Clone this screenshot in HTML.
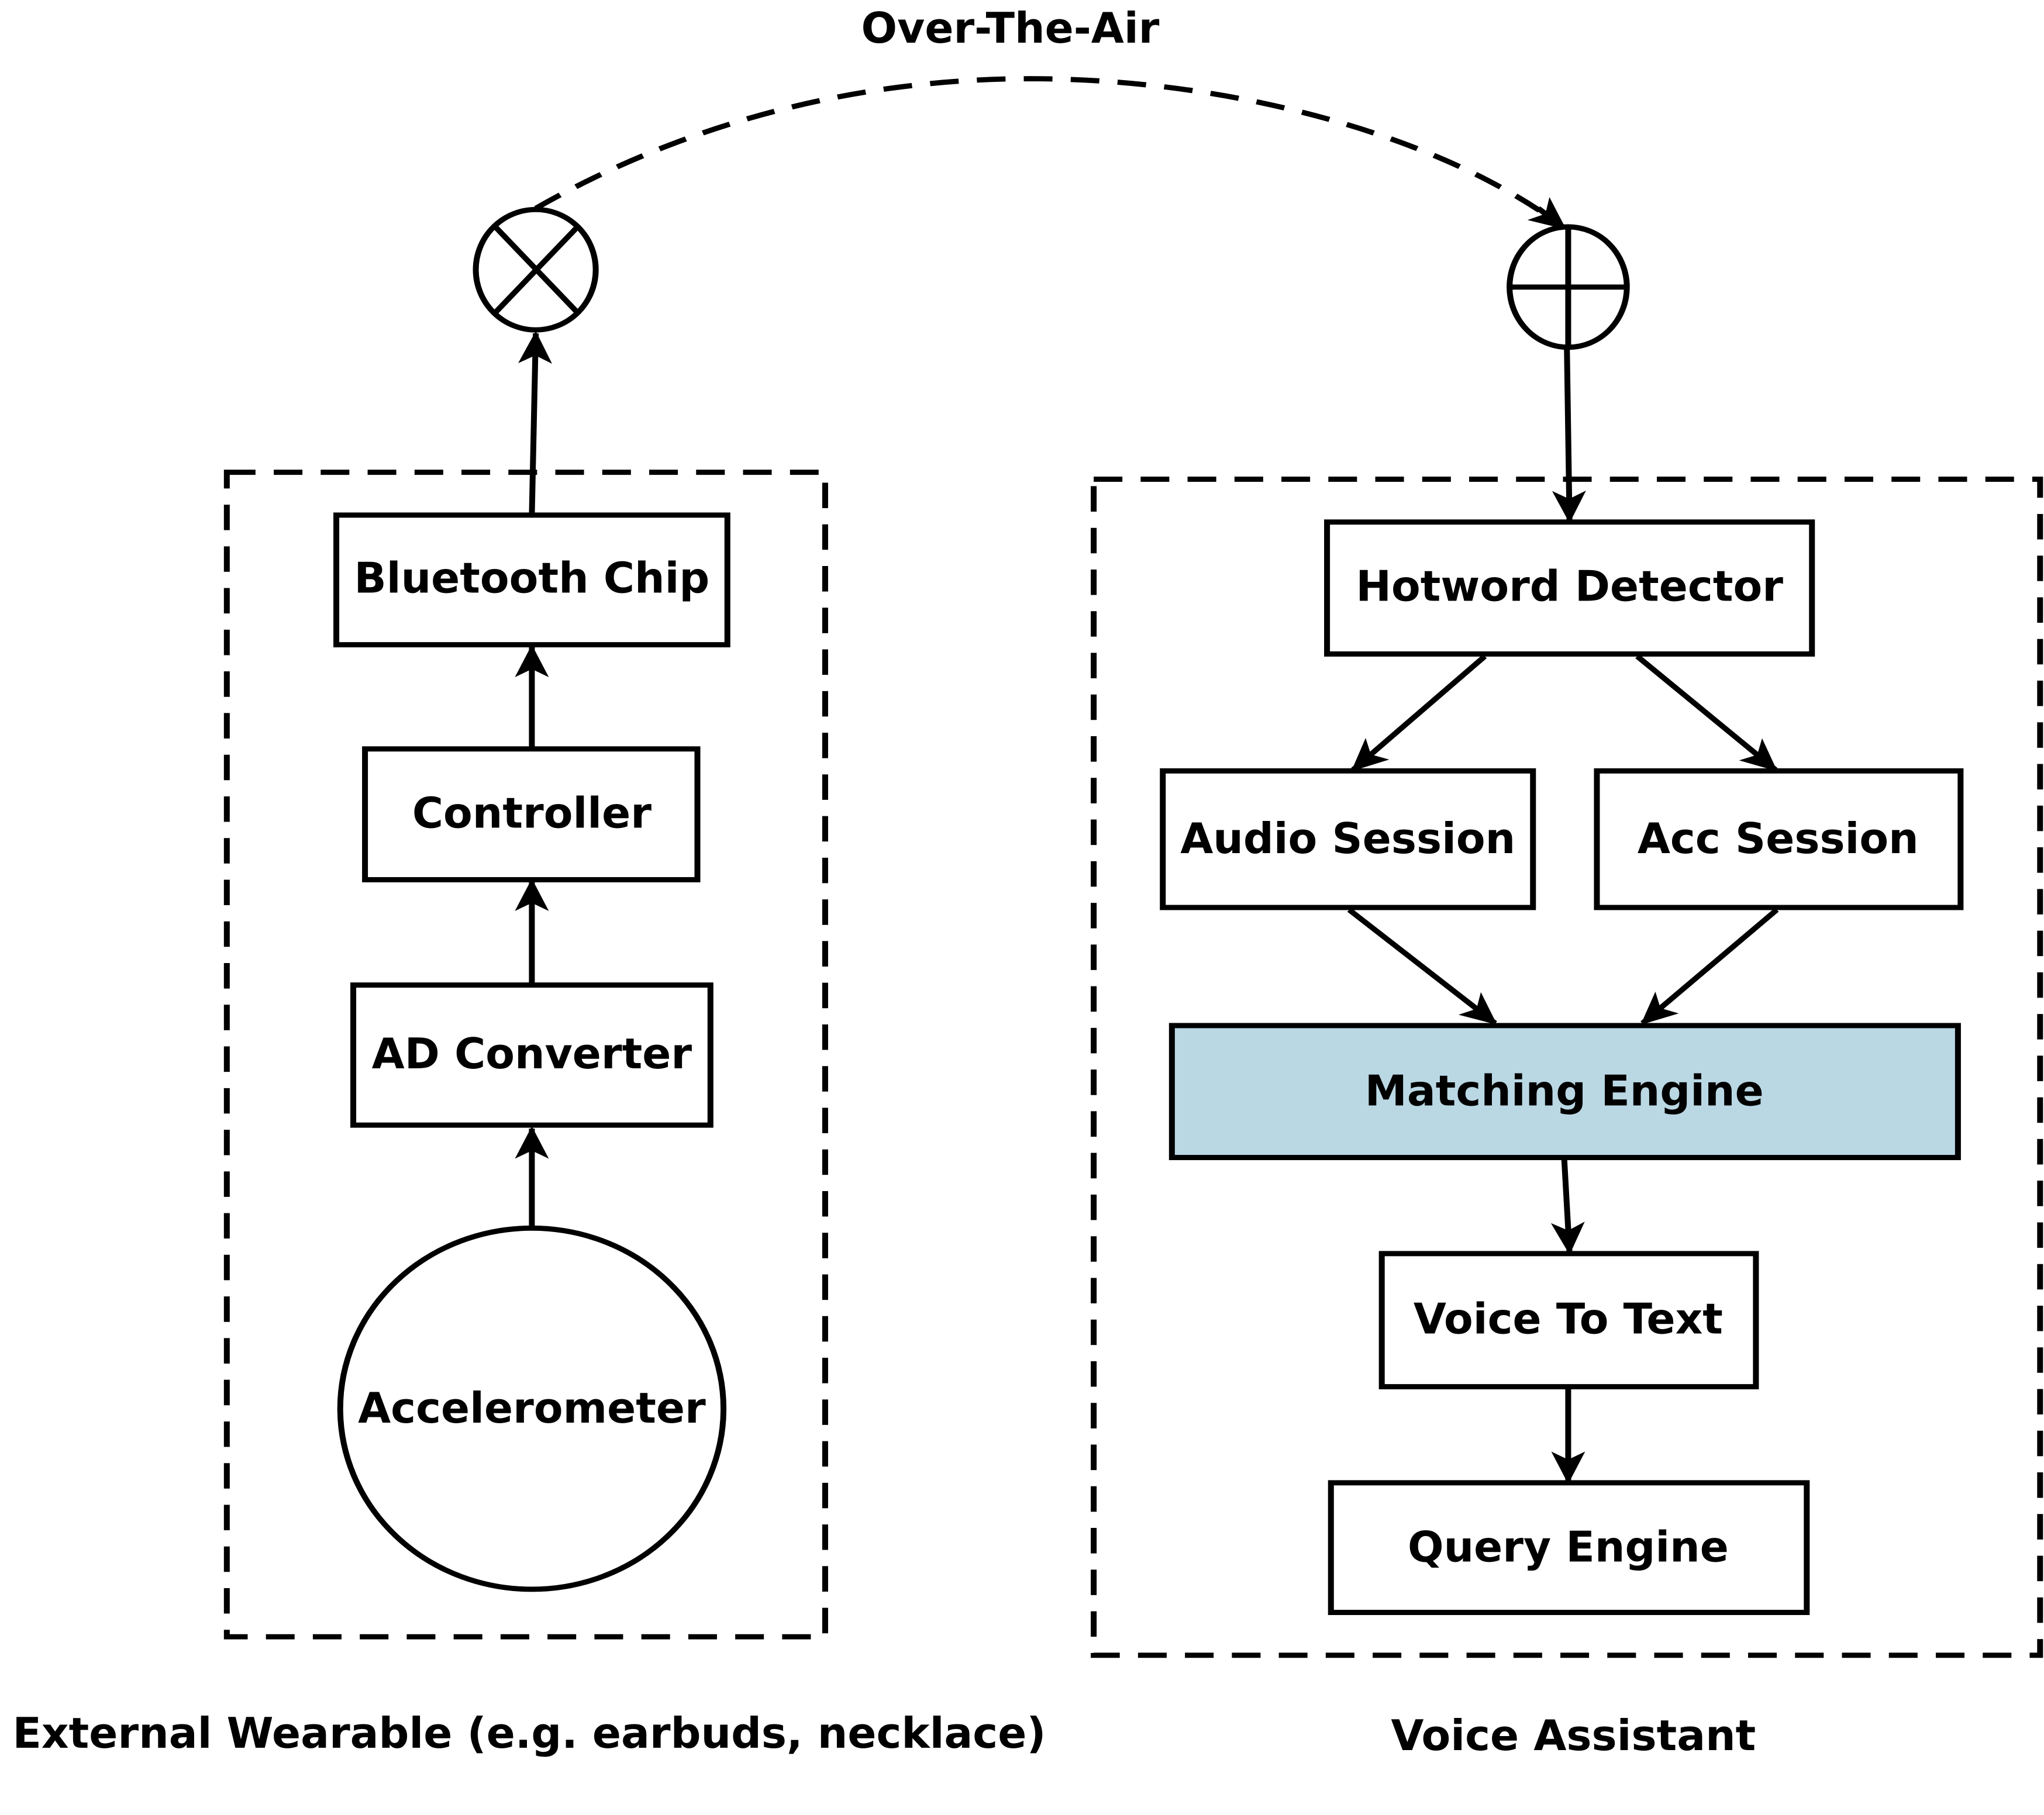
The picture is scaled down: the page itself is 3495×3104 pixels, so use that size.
<!DOCTYPE html>
<html><head><style>html,body{margin:0;padding:0;background:#fff;overflow:hidden}svg{display:block}</style></head><body>
<svg width="3495" height="3104" viewBox="0 0 1568 1568" preserveAspectRatio="none" xmlns="http://www.w3.org/2000/svg" font-family="DejaVu Sans, Liberation Sans, sans-serif" font-weight="bold" font-size="32.5">
<defs>
<marker id="a" viewBox="0 0 28 28" refX="26" refY="14" markerWidth="28" markerHeight="28" markerUnits="userSpaceOnUse" orient="auto">
<path d="M0,1 L28,14 L0,27 L7,14 Z" fill="#000"/>
</marker>
</defs>
<g fill="none" stroke="#000" stroke-width="4.5">
<rect x="174" y="408" width="459" height="1006" stroke-dasharray="22,14"/>
<rect x="839" y="414" width="726" height="1016" stroke-dasharray="22,14"/>
<path d="M411,180 C520,110 650,68 790,68 C950,68 1110,120 1200,197" stroke-dasharray="22,14"/>
<rect x="258" y="445" width="300" height="112"/>
<rect x="280" y="647" width="255" height="113"/>
<rect x="271" y="851" width="274" height="121"/>
<ellipse cx="408" cy="1217" rx="147" ry="156"/>
<ellipse cx="411" cy="233" rx="46" ry="52"/>
<line x1="380" y1="196" x2="443" y2="270"/><line x1="443" y1="196" x2="380" y2="270"/>
<ellipse cx="1203" cy="248" rx="45" ry="52"/>
<line x1="1158" y1="248" x2="1248" y2="248"/><line x1="1203" y1="196" x2="1203" y2="300"/>
<rect x="1018" y="451" width="372" height="114"/>
<rect x="892" y="666" width="284" height="118"/>
<rect x="1225" y="666" width="279" height="118"/>
<rect x="899" y="886" width="603" height="114" fill="#bad8e4"/>
<rect x="1060" y="1083" width="287" height="115"/>
<rect x="1021" y="1281" width="365" height="112"/>
</g>
<g stroke="#000" stroke-width="4.5" fill="none">
<path d="M1180,180 L1200,197" marker-end="url(#a)"/>
<line x1="408" y1="1060" x2="408" y2="975" marker-end="url(#a)"/>
<line x1="408" y1="851" x2="408" y2="761" marker-end="url(#a)"/>
<line x1="408" y1="647" x2="408" y2="559" marker-end="url(#a)"/>
<line x1="408" y1="445" x2="411" y2="288" marker-end="url(#a)"/>
<line x1="1202" y1="300" x2="1204" y2="450" marker-end="url(#a)"/>
<line x1="1139" y1="567" x2="1038" y2="665" marker-end="url(#a)"/>
<line x1="1256" y1="567" x2="1362" y2="665" marker-end="url(#a)"/>
<line x1="1035" y1="786" x2="1147" y2="884" marker-end="url(#a)"/>
<line x1="1363" y1="786" x2="1260" y2="884" marker-end="url(#a)"/>
<line x1="1200" y1="1002" x2="1204" y2="1082" marker-end="url(#a)"/>
<line x1="1203" y1="1200" x2="1203" y2="1280" marker-end="url(#a)"/>
</g>
<g fill="#000" text-anchor="middle">
<text transform="translate(775,37) scale(1,1.126)">Over-The-Air</text>
<text transform="translate(408,512) scale(1,1.126)">Bluetooth Chip</text>
<text transform="translate(408,715) scale(1,1.126)">Controller</text>
<text transform="translate(408,923) scale(1,1.126)">AD Converter</text>
<text transform="translate(408,1229) scale(1,1.126)">Accelerometer</text>
<text transform="translate(1204,519) scale(1,1.126)">Hotword Detector</text>
<text transform="translate(1034,737) scale(1,1.126)">Audio Session</text>
<text transform="translate(1364,737) scale(1,1.126)">Acc Session</text>
<text transform="translate(1200,955) scale(1,1.126)">Matching Engine</text>
<text transform="translate(1203,1152) scale(1,1.126)">Voice To Text</text>
<text transform="translate(1203,1349) scale(1,1.126)">Query Engine</text>
<text transform="translate(406,1510) scale(1,1.126)">External Wearable (e.g. earbuds, necklace)</text>
<text transform="translate(1207,1512) scale(1,1.126)">Voice Assistant</text>
</g>
</svg>
</body></html>
